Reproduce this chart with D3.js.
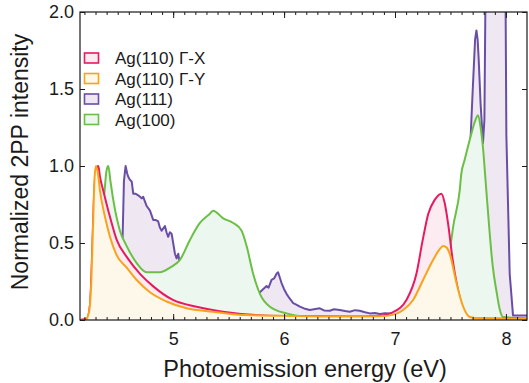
<!DOCTYPE html>
<html><head><meta charset="utf-8">
<script src="https://cdn.jsdelivr.net/npm/d3@7"></script>
<style>body{margin:0;background:#fff}svg{display:block}text{font-family:"Liberation Sans",Arial,sans-serif;fill:#1a1a1a}</style>
</head><body><svg id="c" width="529" height="383"></svg>
<script>
const seriesNames = ["Ag(110) Γ-X", "Ag(110) Γ-Y", "Ag(111)", "Ag(100)"];
const xTicks = [5, 6, 7, 8];
const yTicks = [0.0, 0.5, 1.0, 1.5, 2.0];

const ag110GX = [[4.16,0],[4.223,0.01],[4.25,0.1],[4.268,0.4],[4.286,0.8],[4.304,0.97],[4.325,1.0],[4.34,0.93],[4.37,0.84],[4.43,0.67],[4.491,0.52],[4.581,0.41],[4.701,0.30],[4.818,0.22],[4.998,0.13],[5.211,0.086],[5.448,0.054],[5.809,0.03],[6.142,0.025],[6.592,0.022],[6.863,0.028],[6.98,0.05],[7.103,0.13],[7.193,0.30],[7.25,0.52],[7.3,0.69],[7.358,0.78],[7.418,0.82],[7.448,0.76],[7.478,0.63],[7.52,0.39],[7.583,0.15],[7.643,0.03],[7.718,0.01],[8.19,0.008]];

const ag110GY = [[4.16,0],[4.214,0.005],[4.241,0.05],[4.259,0.2],[4.277,0.6],[4.292,0.93],[4.304,1.0],[4.322,0.95],[4.34,0.84],[4.385,0.67],[4.43,0.54],[4.491,0.42],[4.581,0.34],[4.671,0.26],[4.791,0.18],[4.941,0.12],[5.121,0.076],[5.361,0.054],[5.662,0.032],[6.112,0.026],[6.502,0.022],[6.863,0.025],[6.953,0.03],[7.073,0.065],[7.163,0.13],[7.253,0.26],[7.343,0.39],[7.403,0.46],[7.433,0.48],[7.466,0.47],[7.493,0.43],[7.554,0.24],[7.613,0.09],[7.674,0.02],[7.764,0.01],[8.19,0.008]];

const ag111 = [[4.16,0],[4.529,0],[4.543,0.5],[4.556,0.9],[4.571,1.0],[4.586,0.95],[4.595,0.93],[4.61,0.91],[4.626,0.90],[4.64,0.82],[4.66,0.82],[4.685,0.81],[4.716,0.79],[4.73,0.80],[4.745,0.77],[4.761,0.74],[4.791,0.71],[4.82,0.65],[4.84,0.65],[4.865,0.64],[4.88,0.60],[4.896,0.58],[4.926,0.61],[4.94,0.57],[4.955,0.54],[4.97,0.57],[4.986,0.56],[5.0,0.50],[5.016,0.43],[5.031,0.40],[5.046,0.43],[5.061,0.36],[5.151,0.32],[5.331,0.27],[5.511,0.22],[5.692,0.19],[5.782,0.18],[5.81,0.2],[5.842,0.22],[5.86,0.21],[5.887,0.26],[5.91,0.27],[5.932,0.30],[5.946,0.31],[5.977,0.24],[6.0,0.2],[6.022,0.17],[6.05,0.14],[6.082,0.11],[6.11,0.10],[6.142,0.087],[6.18,0.075],[6.232,0.065],[6.27,0.07],[6.322,0.076],[6.36,0.062],[6.412,0.06],[6.45,0.07],[6.502,0.065],[6.55,0.058],[6.592,0.054],[6.64,0.064],[6.682,0.06],[6.73,0.05],[6.773,0.043],[6.82,0.045],[6.863,0.039],[6.91,0.044],[6.953,0.043],[7.043,0.04],[7.223,0.05],[7.403,0.1],[7.538,0.4],[7.628,0.8],[7.674,1.06],[7.701,1.5],[7.722,1.82],[7.734,1.88],[7.745,1.82],[7.754,1.7],[7.772,1.4],[7.793,1.15],[7.806,1.3],[7.818,2.3],[7.995,2.3],[8.004,1.2],[8.034,0.3],[8.064,0.03],[8.19,0.03]];

const ag100 = [[4.16,0],[4.268,0],[4.322,0.3],[4.358,0.7],[4.379,0.82],[4.399,0.97],[4.415,1.0],[4.435,0.9],[4.46,0.78],[4.52,0.58],[4.581,0.48],[4.671,0.37],[4.761,0.31],[4.881,0.31],[4.971,0.34],[5.061,0.39],[5.151,0.52],[5.241,0.63],[5.331,0.69],[5.361,0.71],[5.451,0.66],[5.541,0.63],[5.617,0.58],[5.662,0.48],[5.721,0.30],[5.782,0.17],[5.872,0.086],[6.022,0.043],[6.142,0.026],[6.592,0.02],[7.043,0.02],[7.313,0.04],[7.403,0.15],[7.448,0.32],[7.508,0.52],[7.523,0.6],[7.583,0.84],[7.598,0.95],[7.628,1.04],[7.674,1.17],[7.726,1.3],[7.748,1.33],[7.772,1.25],[7.793,1.12],[7.817,0.9],[7.854,0.56],[7.881,0.35],[7.914,0.19],[7.944,0.07],[7.974,0.02],[8.19,0.01]];

const svg = d3.select("#c");
const L = 80, R = 527, T = 12, B = 320;
const x = d3.scaleLinear().domain([4.16, 8.19]).range([L, R]);
const y = d3.scaleLinear().domain([0, 2]).range([B, T]);

svg.append("clipPath").attr("id","clip").append("rect")
  .attr("x", L).attr("y", T).attr("width", R - L).attr("height", B - T);

const series = [
  {data: ag111, stroke: "#6a4ea6", fill: "#efe8f3", curve: d3.curveLinear},
  {data: ag100, stroke: "#6cbf45", fill: "#ecf7f0", curve: d3.curveMonotoneX},
  {data: ag110GX, stroke: "#e8195e", fill: "#fcebf1", curve: d3.curveMonotoneX},
  {data: ag110GY, stroke: "#f9a21a", fill: "#fdf8ea", curve: d3.curveMonotoneX}
];
const g = svg.append("g").attr("clip-path", "url(#clip)");
series.forEach(s => {
  const area = d3.area().curve(s.curve).x(d => x(d[0])).y0(y(0)).y1(d => y(d[1]));
  const line = d3.line().curve(s.curve).x(d => x(d[0])).y(d => y(d[1]));
  g.append("path").attr("d", area(s.data)).attr("fill", s.fill);
  g.append("path").attr("d", line(s.data)).attr("fill", "none")
    .attr("stroke", s.stroke).attr("stroke-width", 2).attr("stroke-linejoin", "round");
});

// frame
svg.append("rect").attr("x", L).attr("y", T).attr("width", R - L).attr("height", B - T)
  .attr("fill", "none").attr("stroke", "#1a1a1a").attr("stroke-width", 1.2);

const minor = d3.range(42, 82).map(v => v / 10);
svg.append("g").attr("transform", `translate(0,${B})`)
  .call(d3.axisBottom(x).tickValues(minor).tickSize(-3).tickFormat(""));
svg.append("g").attr("transform", `translate(0,${T})`)
  .call(d3.axisTop(x).tickValues(minor).tickSize(-3).tickFormat(""));
svg.append("g").attr("transform", `translate(0,${B})`)
  .call(d3.axisBottom(x).tickValues(xTicks).tickSize(-6).tickPadding(12).tickFormat(d3.format("d")))
  .call(a => a.selectAll("text").attr("font-size", 18).attr("fill", "#1a1a1a"));
svg.append("g").attr("transform", `translate(0,${T})`)
  .call(d3.axisTop(x).tickValues(xTicks).tickSize(-6).tickFormat(""));
svg.append("g").attr("transform", `translate(${L},0)`)
  .call(d3.axisLeft(y).tickValues(yTicks).tickSize(-5).tickPadding(6).tickFormat(d3.format(".1f")))
  .call(a => a.selectAll("text").attr("font-size", 18).attr("fill", "#1a1a1a"));
svg.append("g").attr("transform", `translate(${R},0)`)
  .call(d3.axisRight(y).tickValues(yTicks).tickSize(-5).tickFormat(""));
svg.selectAll(".domain").remove();
svg.selectAll(".tick line").attr("stroke", "#1a1a1a");

svg.append("text").attr("x", 305).attr("y", 377).attr("text-anchor", "middle")
  .attr("font-size", 23.5).text("Photoemission energy (eV)");
svg.append("text").attr("transform", `translate(28,162) rotate(-90)`)
  .attr("text-anchor", "middle").attr("font-size", 23).text("Normalized 2PP intensity");

// legend
const legendColors = [series[2], series[3], series[0], series[1]];
seriesNames.forEach((n, i) => {
  const yy = 58 + i * 20.5;
  svg.append("rect").attr("x", 84.5).attr("y", yy - 5).attr("width", 14).attr("height", 10)
    .attr("fill", legendColors[i].fill).attr("stroke", legendColors[i].stroke).attr("stroke-width", 1.6);
  svg.append("text").attr("x", 115).attr("y", yy + 6).attr("font-size", 17).text(n);
});
</script></body></html>
